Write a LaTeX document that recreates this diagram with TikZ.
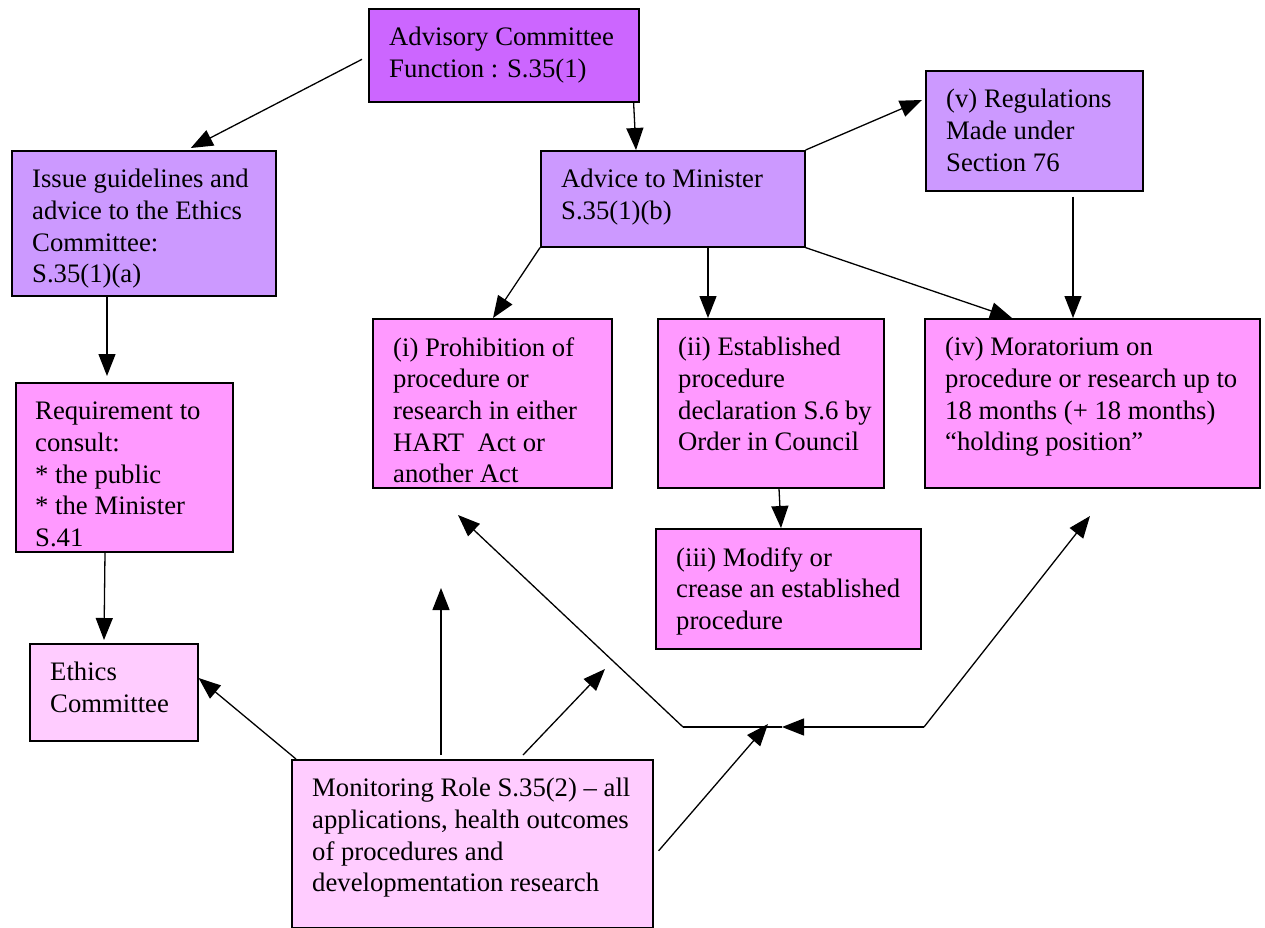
\documentclass[tikz,border=0pt]{standalone}
\usepackage{fontspec}
\setmainfont{Liberation Serif}
\usetikzlibrary{arrows.meta,positioning}

\definecolor{topviolet}{HTML}{CC66FF}
\definecolor{lavender}{HTML}{CC99FF}
\definecolor{pinkbox}{HTML}{FF99FF}
\definecolor{palepink}{HTML}{FFCCFF}

\begin{document}
\begin{tikzpicture}[x=1pt,y=-1pt,
    box/.style={draw=black, line width=1.6pt, anchor=north west, inner sep=0pt},
    lbl/.style={anchor=north west, align=left, inner sep=0pt, font=\fontsize{26.7}{31.7}\selectfont},
    arr/.style={line width=1.3pt, -{Triangle[length=22pt,width=17pt]}}]
\useasboundingbox (0,0) rectangle (1265,927);

% boxes
\node[box, fill=topviolet, minimum width=270pt, minimum height=93pt] (adv) at (368,8) {};
\node[box, fill=lavender, minimum width=264pt, minimum height=145pt] (issue) at (11,150) {};
\node[box, fill=lavender, minimum width=264pt, minimum height=96pt] (advice) at (540,150) {};
\node[box, fill=lavender, minimum width=217pt, minimum height=120pt] (regs) at (925,70) {};
\node[box, fill=pinkbox, minimum width=239pt, minimum height=169pt] (prohib) at (372,318) {};
\node[box, fill=pinkbox, minimum width=226pt, minimum height=169pt] (estab) at (657,318) {};
\node[box, fill=pinkbox, minimum width=335pt, minimum height=169pt] (morat) at (924,318) {};
\node[box, fill=pinkbox, minimum width=217pt, minimum height=169pt] (require) at (15,382) {};
\node[box, fill=pinkbox, minimum width=265pt, minimum height=120pt] (modify) at (655,528) {};
\node[box, fill=palepink, minimum width=168pt, minimum height=97pt] (ethics) at (29,643) {};
\node[box, fill=palepink, minimum width=361pt, minimum height=168pt] (monitor) at (291,759) {};

% texts
\node[lbl] (adv-t) at ([xshift=21pt,yshift=-19pt]adv.north west) {Advisory Committee\\Function : S.35(1)};
\node[lbl] (issue-t) at ([xshift=21pt,yshift=-19pt]issue.north west) {Issue guidelines and\\advice to the Ethics\\Committee:\\S.35(1)(a)};
\node[lbl] (advice-t) at ([xshift=21pt,yshift=-19pt]advice.north west) {Advice to Minister\\S.35(1)(b)};
\node[lbl] (regs-t) at ([xshift=21pt,yshift=-19pt]regs.north west) {(v) Regulations\\Made under\\Section 76};
\node[lbl] (prohib-t) at ([xshift=21pt,yshift=-19pt]prohib.north west) {(i) Prohibition of\\procedure or\\research in either\\HART\ \ Act or\\another Act};
\node[lbl] (estab-t) at ([xshift=21pt,yshift=-19pt]estab.north west) {(ii) Established\\procedure\\declaration S.6 by\\Order in Council};
\node[lbl] (morat-t) at ([xshift=21pt,yshift=-19pt]morat.north west) {(iv) Moratorium on\\procedure or research up to\\18 months (+ 18 months)\\“holding position”};
\node[lbl] (require-t) at ([xshift=20pt,yshift=-20pt]require.north west) {Requirement to\\consult:\\* the public\\* the Minister\\S.41};
\node[lbl] (modify-t) at ([xshift=21pt,yshift=-19pt]modify.north west) {(iii) Modify or\\crease an established\\procedure};
\node[lbl] (ethics-t) at ([xshift=21pt,yshift=-19pt]ethics.north west) {Ethics\\Committee};
\node[lbl] (monitor-t) at ([xshift=21pt,yshift=-19pt]monitor.north west) {Monitoring Role S.35(2) – all\\applications, health outcomes\\of procedures and\\developmentation research};

% free ends
\coordinate (up) at (441,588);
\coordinate (mid) at (605,669);
\coordinate (low) at (768,724);
\coordinate (jl) at (683,727);
\coordinate (jr) at (924,727);
\coordinate (jm) at (782,727);
\coordinate (pi) at (458,515);
\coordinate (mi) at (1090,516);

% arrows
\draw[arr] ([xshift=-6pt,yshift=-4pt]adv.west) -- ([xshift=47pt,yshift=2pt]issue.north);
\draw[arr] ([xshift=-6pt]adv.south east) -- ([xshift=96pt]advice.north west);
\draw[arr] (advice.north east) -- ([xshift=-3pt,yshift=-30pt]regs.north west);
\draw[arr] (advice.south west) -- ([xshift=121pt]prohib.north west);
\draw[arr] ([xshift=168pt]advice.south west) -- ([xshift=51pt]estab.north west);
\draw[arr] (advice.south east) -- ([xshift=88pt]morat.north west);
\draw[arr] ([xshift=148pt,yshift=-5pt]regs.south west) -- ([xshift=149pt]morat.north west);
\draw[arr] ([xshift=96pt]issue.south west) -- ([xshift=92pt,yshift=6pt]require.north west);
\draw[arr] ([xshift=122pt]estab.south west) -- ([xshift=126pt]modify.north west);
\draw[arr] ([xshift=90pt]require.south west) -- ([xshift=75pt,yshift=3pt]ethics.north west);
\draw[arr] ([xshift=5pt]monitor.north west) -- ([yshift=-35pt]ethics.north east);
\draw[arr] ([xshift=150pt,yshift=4pt]monitor.north west) -- (up);
\draw[arr] ([xshift=232pt,yshift=4pt]monitor.north west) -- (mid);
\draw[arr] ([xshift=5pt,yshift=-7pt]monitor.east) -- (low);
\draw[arr] (jr) -- (jm);
\draw[line width=1.3pt] (jm) -- (jl);
\draw[arr] (jl) -- (pi);
\draw[arr] (jr) -- (mi);
\end{tikzpicture}
\end{document}
